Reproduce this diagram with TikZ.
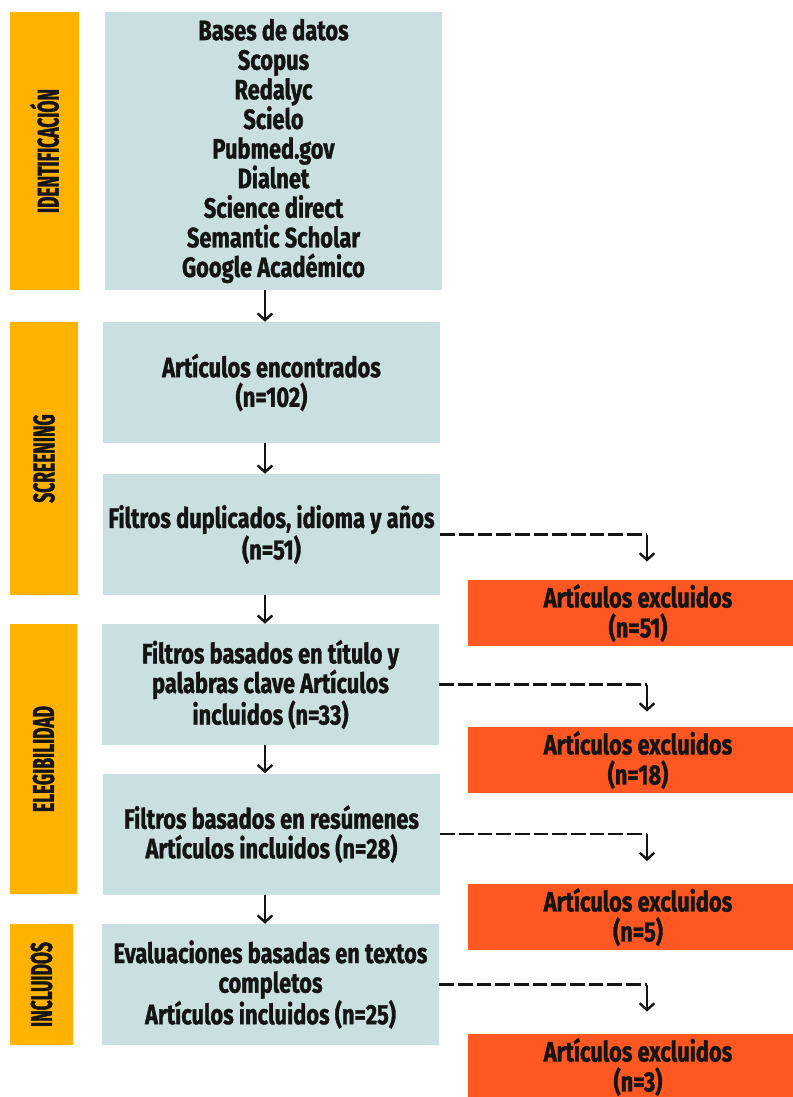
\documentclass[tikz,border=0pt]{standalone}
\usepackage{fontspec}
\setmainfont{Fira Sans}[FakeStretch=0.78, BoldFeatures={FakeBold=1.2}]
\newfontfamily\fuentefase{Fira Sans}[FakeStretch=0.58, BoldFeatures={FakeBold=1.2}]
\usetikzlibrary{arrows.meta}

\definecolor{barra}{HTML}{FFB300}
\definecolor{azulcaja}{HTML}{C9DFE0}
\definecolor{rojoexcl}{HTML}{FF5722}
\definecolor{tinta}{HTML}{141414}

\begin{document}
\begin{tikzpicture}[x=0.75pt, y=-0.75pt,
  >={Straight Barb[length=5pt,width=11pt]},
  paso/.style={fill=azulcaja, minimum width=252.75pt, inner sep=0pt,
    align=center, text=tinta, font=\fontsize{21}{22.2}\selectfont\bfseries},
  fase/.style={fill=barra, rotate=90, inner sep=0pt, text=tinta,
    font=\fuentefase\fontsize{22.5}{23}\selectfont\bfseries},
  excluido/.style={fill=rojoexcl, minimum width=255pt, minimum height=49.5pt,
    inner sep=0pt, align=center, text=tinta,
    font=\fontsize{21}{22.5}\selectfont\bfseries},
  flecha/.style={->, line width=1.8pt, draw=tinta},
  guion/.style={line width=1.8pt, draw=tinta, dash pattern=on 11pt off 3pt}]

  \useasboundingbox (0,0) rectangle (793,1097);

  % === Phase bars (left) ===
  \node[fase, minimum width=208.5pt, minimum height=51.75pt] (f1) at (44.5,151) {IDENTIFICACIÓN};
  \node[fase, minimum width=204.75pt, minimum height=51pt] (f2) at (44,458.5) {SCREENING};
  \node[fase, minimum width=202.5pt, minimum height=50.25pt] (f3) at (43.5,759) {ELEGIBILIDAD};
  \node[fase, minimum width=90.75pt, minimum height=47.25pt] (f4) at (41.5,984.5) {INCLUIDOS};

  % === Main column ===
  \node[paso, minimum height=208.5pt] (b1) at (273.5,151)
    {Bases de datos\\Scopus\\Redalyc\\Scielo\\Pubmed.gov\\Dialnet\\Science direct\\Semantic Scholar\\Google Académico};
  \node[paso, minimum height=90.75pt] (b2) at (271.5,382.5) {Artículos encontrados\\(n=102)};
  \node[paso, minimum height=90.75pt] (b3) at (271.5,534.5) {Filtros duplicados, idioma y años\\(n=51)};
  \node[paso, minimum height=90.75pt] (b4) at (270.5,684.5)
    {Filtros basados en título y\\palabras clave Artículos\\incluidos (n=33)};
  \node[paso, minimum height=90.75pt] (b5) at (271.5,834)
    {Filtros basados en resúmenes\\Artículos incluidos (n=28)};
  \node[paso, minimum height=90.75pt] (b6) at (270.5,984.5)
    {Evaluaciones basadas en textos\\completos\\Artículos incluidos (n=25)};

  % === Excluded boxes (right) ===
  \node[excluido] (x1) at (638,613) {Artículos excluidos\\(n=51)};
  \node[excluido] (x2) at (638,760) {Artículos excluidos\\(n=18)};
  \node[excluido] (x3) at (638,917) {Artículos excluidos\\(n=5)};
  \node[excluido] (x4) at (638,1067) {Artículos excluidos\\(n=3)};

  % === Arrows down the main column ===
  \coordinate (eje) at (265,0);
  \foreach \a/\b in {b1/b2, b2/b3, b3/b4, b4/b5, b5/b6}
    \draw[flecha] (\a.south -| eje) -- (\b.north -| eje);

  % === Dashed branches to the excluded boxes ===
  \coordinate (esq) at (647,0);
  \foreach \a/\k in {b3/1, b4/2, b5/3, b6/4} {
    \path (\a.east -| esq) coordinate (e\k) ++(0,27) coordinate (t\k);
    \draw[guion] (\a.east) -- (e\k);
    \draw[flecha] (e\k) -- (t\k);
  }

\end{tikzpicture}
\end{document}
